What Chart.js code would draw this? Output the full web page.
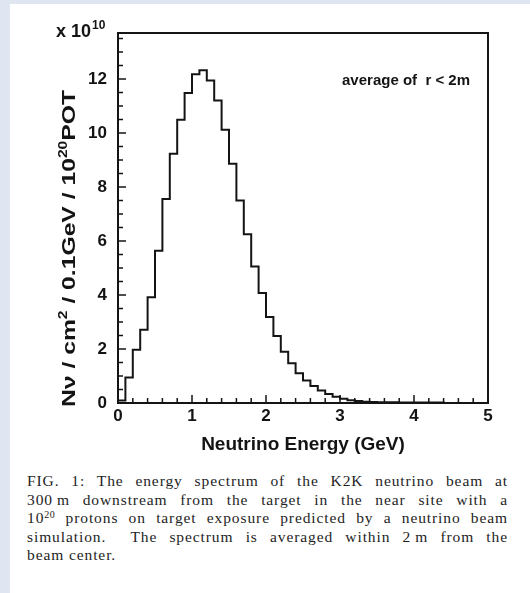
<!DOCTYPE html>
<html>
<head>
<meta charset="utf-8">
<script src="https://cdn.jsdelivr.net/npm/chart.js@4/dist/chart.umd.min.js"></script>
<style>
  html, body { margin: 0; padding: 0; }
  body { width: 530px; height: 593px; background: #dfe5f1; position: relative; overflow: hidden; }
  #panel { position: absolute; left: 10px; top: 4px; width: 520px; height: 589px; background: #ffffff; }
  #chart { position: absolute; left: 0; top: 0; }
  #caption { position: absolute; left: 27px; top: 472px; width: 481px;
    font-family: "Liberation Serif", "DejaVu Serif", serif; font-size: 15.5px; letter-spacing: 0.9px;
    line-height: 18.6px; color: #1e1e1e; }
  #caption .j { text-align: justify; text-align-last: justify; }
  #caption sup { font-size: 10px; line-height: 0; vertical-align: 5px; letter-spacing: 0.5px; }
</style>
</head>
<body>
<div id="panel"></div>
<canvas id="chart" width="530" height="460"></canvas>
<div id="caption">
  <div class="j">FIG. 1: The energy spectrum of the K2K neutrino beam at</div>
  <div class="j">300&#8201;m downstream from the target in the near site with a</div>
  <div class="j">10<sup>20</sup> protons on target exposure predicted by a neutrino beam</div>
  <div class="j">simulation.&nbsp; The spectrum is averaged within 2&#8201;m from the</div>
  <div>beam center.</div>
</div>
<script>
// ---- data (units of 10^10 neutrinos / cm^2 / 0.1 GeV / 10^20 POT) ----
const binWidth = 0.1;
const energyBins = [0.0, 0.1, 0.2, 0.3, 0.4, 0.5, 0.6, 0.7, 0.8, 0.9,
                    1.0, 1.1, 1.2, 1.3, 1.4, 1.5, 1.6, 1.7, 1.8, 1.9,
                    2.0, 2.1, 2.2, 2.3, 2.4, 2.5, 2.6, 2.7, 2.8, 2.9,
                    3.0, 3.1, 3.2, 3.3, 3.4, 3.5, 3.6, 3.7, 3.8, 3.9,
                    4.0, 4.1, 4.2, 4.3];
const fluxValues = [0.09, 0.94, 1.97, 2.71, 3.92, 5.64, 7.55, 9.23, 10.49, 11.48,
                    12.17, 12.32, 11.94, 11.20, 10.12, 8.86, 7.50, 6.25, 5.05, 4.07,
                    3.18, 2.48, 1.90, 1.47, 1.10, 0.83, 0.63, 0.46, 0.33, 0.23,
                    0.16, 0.10, 0.07, 0.05, 0.04, 0.03, 0.03, 0.03, 0.02, 0.02,
                    0.02, 0.02, 0.02, 0.02];
const xTickLabels = [0, 1, 2, 3, 4, 5];
const yTickLabels = [0, 2, 4, 6, 8, 10, 12];
const xRange = [0, 5];
const yRange = [0, 13.7];

// histogram outline points (left edge of each bin, closing edge at the end)
const points = [{ x: energyBins[0], y: 0 }];
energyBins.forEach((e, i) => points.push({ x: e, y: fluxValues[i] }));
const lastEdge = energyBins[energyBins.length - 1] + binWidth;
points.push({ x: lastEdge, y: fluxValues[fluxValues.length - 1] });
points.push({ x: lastEdge, y: 0 });

const INK = '#141414';
const SANS = '"Liberation Sans", Arial, Helvetica, sans-serif';

const decor = {
  id: 'decor',
  afterDraw(chart) {
    const ctx = chart.ctx;
    const a = chart.chartArea;
    const xs = chart.scales.x, ys = chart.scales.y;
    ctx.save();
    // frame
    ctx.strokeStyle = INK;
    ctx.lineWidth = 2;
    ctx.strokeRect(a.left, a.top, a.right - a.left, a.bottom - a.top);
    // inward ticks on bottom axis: minor every 0.2, major every 1
    ctx.lineWidth = 1.5;
    ctx.beginPath();
    for (let k = 0; k <= 25; k++) {
      const v = k * 0.2;
      const px = xs.getPixelForValue(v);
      const len = (k % 5 === 0) ? 8 : 5;
      ctx.moveTo(px, a.bottom);
      ctx.lineTo(px, a.bottom - len);
    }
    // inward ticks on left axis: minor every 0.5, major every 2
    for (let k = 0; k <= 27; k++) {
      const v = k * 0.5;
      if (v > yRange[1]) break;
      const py = ys.getPixelForValue(v);
      const len = (k % 4 === 0) ? 8 : 5;
      ctx.moveTo(a.left, py);
      ctx.lineTo(a.left + len, py);
    }
    ctx.stroke();

    ctx.fillStyle = INK;
    ctx.textBaseline = 'alphabetic';
    // exponent label "x 10^10"
    ctx.font = 'bold 18px ' + SANS;
    ctx.textAlign = 'left';
    ctx.fillText('x 10', 56, 37);
    const w1 = ctx.measureText('x 10').width;
    ctx.font = 'bold 12px ' + SANS;
    ctx.fillText('10', 56 + w1 + 1, 29);

    // annotation
    ctx.font = 'bold 15px ' + SANS;
    ctx.textAlign = 'right';
    ctx.fillText('average of  r < 2m', 470, 85);

    // x axis title
    ctx.font = 'bold 19px ' + SANS;
    ctx.textAlign = 'center';
    ctx.fillText('Neutrino Energy (GeV)', (a.left + a.right) / 2, 450);

    // y axis title (rotated), with superscripts
    ctx.translate(75, 407);
    ctx.rotate(-Math.PI / 2);
    ctx.textAlign = 'left';
    const segs = [
      ['N\u03bd / cm', 0], ['2', 1], [' / 0.1GeV / 10', 0], ['20', 1], ['POT', 0]
    ];
    const mainFont = 'bold 19px ' + SANS, supFont = 'bold 12px ' + SANS;
    let total = 0;
    segs.forEach(s => { ctx.font = s[1] ? supFont : mainFont; total += ctx.measureText(s[0]).width; });
    const target = 317;
    ctx.scale(target / total, 1);
    let cx = 0;
    segs.forEach(s => {
      ctx.font = s[1] ? supFont : mainFont;
      ctx.fillText(s[0], cx, s[1] ? -8 : 0);
      cx += ctx.measureText(s[0]).width;
    });
    ctx.restore();
  }
};

new Chart(document.getElementById('chart'), {
  type: 'line',
  data: {
    datasets: [{
      data: points,
      stepped: 'before',
      borderColor: INK,
      borderWidth: 2,
      borderJoinStyle: 'miter',
      borderCapStyle: 'butt',
      pointRadius: 0,
      fill: false,
      tension: 0
    }]
  },
  options: {
    responsive: false,
    animation: false,
    events: [],
    layout: { padding: { top: 33, right: 42, left: 0, bottom: 0 } },
    plugins: { legend: { display: false }, tooltip: { enabled: false }, title: { display: false } },
    scales: {
      x: {
        type: 'linear', min: xRange[0], max: xRange[1],
        afterFit(s) { s.height = 57; },
        afterBuildTicks(s) { s.ticks = xTickLabels.map(v => ({ value: v })); },
        grid: { display: false, drawTicks: false },
        border: { display: false },
        ticks: { padding: 3, maxRotation: 0, autoSkip: false, color: INK,
                 font: { family: SANS, weight: 'bold', size: 17 } }
      },
      y: {
        type: 'linear', min: yRange[0], max: yRange[1],
        afterFit(s) { s.width = 118; },
        afterBuildTicks(s) { s.ticks = yTickLabels.map(v => ({ value: v })); },
        grid: { display: false, drawTicks: false },
        border: { display: false },
        ticks: { padding: 11, autoSkip: false, color: INK,
                 font: { family: SANS, weight: 'bold', size: 17 } }
      }
    }
  },
  plugins: [decor]
});
</script>
</body>
</html>
